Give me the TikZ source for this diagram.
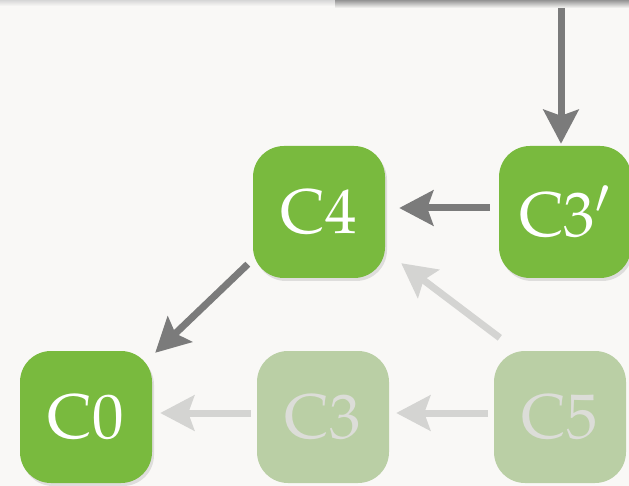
\documentclass[tikz,border=0pt]{standalone}
\usepackage[T1]{fontenc}
\usepackage{mathpazo}
\usetikzlibrary{arrows.meta,shadows}
\definecolor{bg}{HTML}{F9F8F6}
\definecolor{cgreen}{HTML}{79BA3E}
\definecolor{cfade}{HTML}{BACFA5}
\definecolor{tfade}{HTML}{DCDDD8}
\definecolor{adark}{HTML}{7B7B7B}
\definecolor{afade}{HTML}{D4D4D2}
\tikzset{
  cbox/.style={rectangle, rounded corners=31pt, minimum width=132pt, minimum height=132pt,
    inner sep=0pt, fill=cgreen, text=white, font=\fontsize{63}{63}\selectfont,
    drop shadow={shadow xshift=2pt, shadow yshift=-3pt, opacity=0.22}},
  fbox/.style={rectangle, rounded corners=31pt, minimum width=132pt, minimum height=132pt,
    inner sep=0pt, fill=cfade, text=tfade, font=\fontsize{63}{63}\selectfont},
  arr/.style={draw=adark, line width=7pt,
    -{Stealth[length=34pt,width=35pt,inset=6pt]}},
  farr/.style={draw=afade, line width=7pt,
    -{Stealth[length=34pt,width=35pt,inset=6pt]}}
}
\begin{document}
\begin{tikzpicture}[x=1pt,y=-1pt]
\useasboundingbox (0,0) rectangle (629,486);
\fill[bg] (0,0) rectangle (629,486);
% top band
\shade[top color=black!16, bottom color=bg] (0,0) rectangle (335,6);
\shade[top color=black!42, bottom color=bg] (335,0) rectangle (629,8);
% nodes
\node[cbox] (c4) at (319,212) {C4};
\node[cbox] (c3p) at (565,212) {C3$'$};
\node[cbox] (c0) at (86,417) {C0};
\node[fbox] (c3) at (323,417) {C3};
\node[fbox] (c5) at (560,417) {C5};
\coordinate (top) at (561,8);
% connectors
\draw[arr, shorten >=2pt] (top) -- (top |- c3p.north);
\draw[arr, shorten <=9pt, shorten >=14pt] (c3p.west |- 0,208) -- (c4.east |- 0,208);
\draw[arr] ([shift={(-5,-14)}]c4.south west) -- ([shift={(3,2)}]c0.north east);
\draw[farr] ([shift={(6,-13)}]c5.north west) -- ([shift={(16,-15)}]c4.south east);
\draw[farr, shorten <=6pt, shorten >=8pt] (c3.west |- 0,413) -- (c0.east |- 0,413);
\draw[farr, shorten <=6pt, shorten >=7pt] (c5.west |- 0,413) -- (c3.east |- 0,413);
\end{tikzpicture}
\end{document}
